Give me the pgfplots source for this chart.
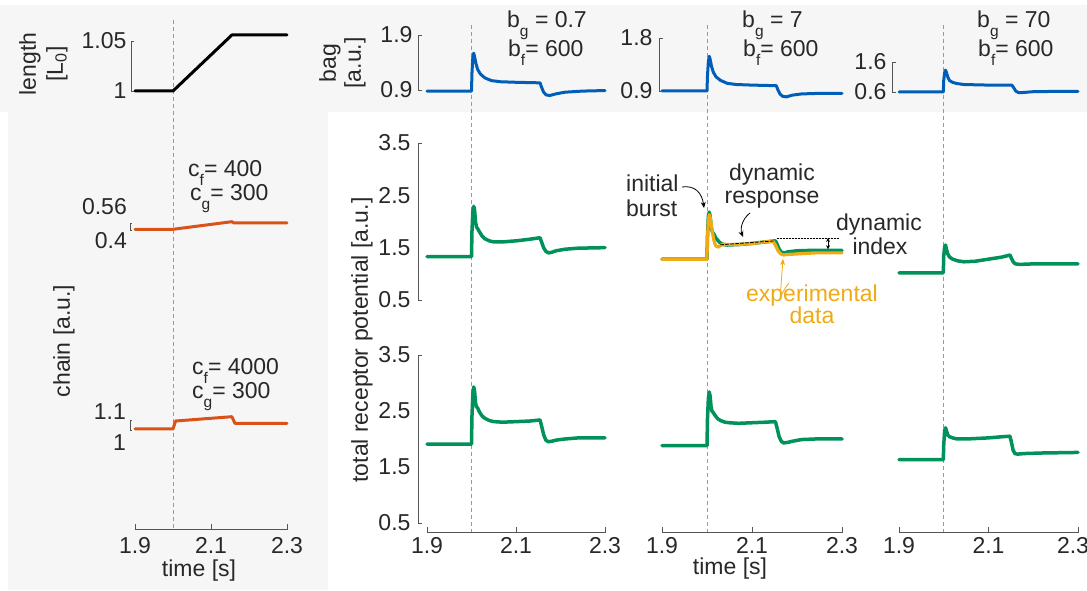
\documentclass[border=0pt]{standalone}
\usepackage{fontspec}
\setmainfont{Liberation Sans}
\usepackage{pgfplots}
\pgfplotsset{compat=1.18}
\usetikzlibrary{arrows.meta}
\definecolor{bgc}{RGB}{246,246,246}
\definecolor{txt}{RGB}{40,40,40}
\definecolor{axc}{RGB}{85,85,85}
\definecolor{grn}{RGB}{0,146,90}
\definecolor{blu}{RGB}{0,94,184}
\definecolor{chn}{RGB}{217,83,25}
\definecolor{expc}{RGB}{240,170,20}
\newcommand\lab{\fontsize{23}{24}\selectfont}
\newcommand\sub[1]{\raisebox{-9pt}{\fontsize{15.5}{15.5}\selectfont #1}}
% y bracket: shift, tick length, ymin, ymax
\newcommand\ybr[4]{\draw[axl] ([xshift=#1+#2]axis cs:1.9,#3) -- ([xshift=#1]axis cs:1.9,#3)
  -- ([xshift=#1]axis cs:1.9,#4) -- ([xshift=#1+#2]axis cs:1.9,#4);}
% x axis line below the box: shift, y value
\newcommand\xax[2]{\draw[axl] ([yshift=#1+5pt]axis cs:1.9,#2) -- ([yshift=#1]axis cs:1.9,#2)
  -- ([yshift=#1]axis cs:2.3,#2) -- ([yshift=#1+5pt]axis cs:2.3,#2);
  \draw[axl] ([yshift=#1]axis cs:2.1,#2) -- ([yshift=#1+5pt]axis cs:2.1,#2);}
\pgfplotsset{panel/.style={scale only axis, clip=false, xmin=1.9, xmax=2.3,
    axis line style={draw=none}, tick style={draw=none}, major tick length=0pt,
    xtick=\empty, ytick=\empty,
    tick label style={font=\lab, text=txt},
    /pgf/number format/assume math mode=true,
    every axis plot/.append style={line join=round, line cap=round}},
  bottom/.style={xtick={1.9,2.1,2.3}, xticklabel style={yshift=#1}}}

\begin{document}
\lab
\begin{tikzpicture}[x=1pt,y=1pt,font=\lab,text=txt,
  axl/.style={draw=axc,line width=0.9pt},
  vdash/.style={draw=gray!80,line width=0.8pt,dash pattern=on 4pt off 3pt}]
\useasboundingbox (0,0) rectangle (1087,591);
\fill[white] (0,0) rectangle (1087,591);
\fill[bgc] (0,586) rectangle (1087,479);
\fill[bgc] (8,479) rectangle (328,1);

% stretch onset
\draw[vdash] (173,571) -- (173,63);
\draw[vdash] (471.5,566) -- (471.5,59);
\draw[vdash] (707,566) -- (707,59);
\draw[vdash] (943.75,566) -- (943.75,59);

% ---- left column
\begin{axis}[panel, at={(135pt,500pt)}, width=152pt, height=50pt,
  ymin=1, ymax=1.05, ytick={1,1.05}, yticklabel style={xshift=-0.7pt}]
\addplot[black, line width=3pt] coordinates {(1.9,1) (2.0,1) (2.155,1.056) (2.3,1.056)};
\ybr{-4pt}{3pt}{1}{1.05}
\end{axis}

\begin{axis}[panel, at={(135pt,361pt)}, width=152pt, height=7pt, ymin=0.4, ymax=0.56]
\addplot[chn, line width=3pt] coordinates {(1.9,0.416) (2.0,0.416) (2.155,0.59) (2.16,0.56) (2.3,0.56)};
\ybr{-5pt}{2pt}{0.4}{0.56}
\end{axis}

\begin{axis}[panel, bottom=-99.7pt, at={(135pt,161pt)}, width=152pt, height=10pt, ymin=1, ymax=1.1]
\addplot[chn, line width=3pt] coordinates {(1.9,1.01) (2.0,1.01) (2.007,1.09) (2.155,1.133)
  (2.163,1.067) (2.3,1.067)};
\ybr{-5pt}{2pt}{1}{1.1}
\xax{-99pt}{1}
\end{axis}

\node[anchor=east,inner sep=0] at (127,384) {0.56};
\node[anchor=east,inner sep=0] at (127,350) {0.4};
\node[anchor=east,inner sep=0] at (126,179) {1.1};
\node[anchor=east,inner sep=0] at (126,148) {1};

% ---- bag row
\begin{axis}[panel, at={(427pt,501pt)}, width=178pt, height=55pt,
  ymin=0.9, ymax=1.9, ytick={0.9,1.9}, yticklabel style={xshift=-6.7pt}]
\addplot[blu, line width=3pt] coordinates {(1.9,0.88) (2.0,0.88) (2.001,1.2) (2.003,1.5) (2.005,1.57)
  (2.007,1.5) (2.01,1.38) (2.014,1.27) (2.02,1.19) (2.03,1.12) (2.045,1.07) (2.065,1.05) (2.1,1.04)
  (2.154,1.03) (2.157,0.96) (2.162,0.86) (2.168,0.81) (2.176,0.80) (2.19,0.83) (2.21,0.86)
  (2.25,0.88) (2.3,0.89)};
\ybr{-9pt}{4pt}{0.9}{1.9}
\end{axis}

\begin{axis}[panel, at={(662pt,500pt)}, width=180pt, height=53pt,
  ymin=0.9, ymax=1.8, ytick={0.9,1.8}, yticklabel style={xshift=-1.7pt}]
\addplot[blu, line width=3pt] coordinates {(1.9,0.90) (2.0,0.90) (2.001,1.15) (2.003,1.4) (2.005,1.49)
  (2.007,1.44) (2.01,1.32) (2.014,1.22) (2.02,1.14) (2.03,1.08) (2.045,1.03) (2.065,1.01) (2.1,1.0)
  (2.154,0.99) (2.157,0.93) (2.162,0.85) (2.168,0.81) (2.176,0.80) (2.19,0.83) (2.21,0.85)
  (2.25,0.86) (2.3,0.86)};
\ybr{-3pt}{4pt}{0.9}{1.8}
\end{axis}

\begin{axis}[panel, at={(899pt,499pt)}, width=179pt, height=30pt,
  ymin=0.6, ymax=1.6, ytick={0.6,1.6}, yticklabel style={xshift=-4.7pt}]
\addplot[blu, line width=3pt] coordinates {(1.9,0.60) (1.999,0.60) (2.0,1.0) (2.002,1.25) (2.004,1.33)
  (2.006,1.25) (2.009,1.1) (2.013,0.98) (2.02,0.92) (2.03,0.88) (2.045,0.85) (2.07,0.84) (2.1,0.83)
  (2.152,0.83) (2.156,0.75) (2.161,0.63) (2.167,0.58) (2.175,0.58) (2.2,0.61) (2.25,0.62) (2.3,0.62)};
\ybr{-7pt}{4pt}{0.6}{1.6}
\end{axis}

% ---- total receptor potential, row 1
\begin{axis}[panel, at={(427pt,291pt)}, width=178pt, height=157pt,
  ymin=0.5, ymax=3.5, ytick={0.5,1.5,2.5,3.5}, yticklabel style={xshift=-8.7pt}]
\addplot[grn, line width=3.5pt] coordinates {(1.9,1.33) (2.0,1.33) (2.001,1.8) (2.003,2.2) (2.005,2.29)
  (2.007,2.22) (2.009,2.0) (2.011,1.9) (2.014,1.86) (2.018,1.80) (2.024,1.72) (2.03,1.67) (2.04,1.63)
  (2.05,1.61) (2.07,1.61) (2.1,1.63) (2.13,1.66) (2.154,1.69) (2.157,1.62) (2.162,1.50) (2.167,1.43)
  (2.173,1.40) (2.18,1.41) (2.19,1.44) (2.21,1.47) (2.24,1.49) (2.3,1.50)};
\ybr{-9pt}{4pt}{0.5}{3.5}
\end{axis}

\begin{axis}[panel, at={(662pt,291pt)}, width=180pt, height=157pt, ymin=0.5, ymax=3.5]
\addplot[grn, line width=3.5pt] coordinates {(1.9,1.28) (2.0,1.28) (2.001,1.7) (2.003,2.1) (2.005,2.18)
  (2.007,2.1) (2.009,1.9) (2.012,1.80) (2.016,1.75) (2.02,1.68) (2.028,1.6) (2.036,1.56) (2.045,1.55)
  (2.07,1.56) (2.1,1.58) (2.13,1.61) (2.152,1.63) (2.156,1.56) (2.161,1.46) (2.166,1.41) (2.172,1.40)
  (2.18,1.42) (2.2,1.44) (2.24,1.45) (2.3,1.45)};
\addplot[expc, line width=3.2pt] coordinates {(1.9,1.28) (2.0,1.28) (2.001,1.7) (2.003,2.0) (2.005,2.13)
  (2.008,2.05) (2.011,1.85) (2.015,1.65) (2.019,1.54) (2.024,1.51) (2.03,1.54) (2.036,1.57) (2.045,1.56)
  (2.07,1.56) (2.1,1.58) (2.13,1.61) (2.147,1.62) (2.152,1.55) (2.158,1.44) (2.164,1.38) (2.17,1.36)
  (2.18,1.37) (2.2,1.38) (2.24,1.40) (2.3,1.40)};
\addplot[black, line width=0.8pt, dash pattern=on 3pt off 2pt] coordinates {(2.03,1.555) (2.151,1.63)};
\addplot[black, line width=0.6pt, dash pattern=on 1.5pt off 1.5pt] coordinates {(2.156,1.685) (2.296,1.685)};
\draw[black, line width=0.8pt, {Stealth[length=4pt,width=4pt]}-{Stealth[length=4pt,width=4pt]}]
  (axis cs:2.269,1.685) -- (axis cs:2.269,1.47);
\end{axis}

\begin{axis}[panel, at={(899pt,291pt)}, width=179pt, height=157pt, ymin=0.5, ymax=3.5]
\addplot[grn, line width=3.5pt] coordinates {(1.9,1.02) (1.999,1.02) (2.0,1.35) (2.002,1.52) (2.004,1.55)
  (2.006,1.47) (2.009,1.38) (2.013,1.32) (2.02,1.28) (2.03,1.25) (2.045,1.23) (2.07,1.24) (2.1,1.28)
  (2.13,1.32) (2.148,1.36) (2.151,1.30) (2.155,1.23) (2.16,1.19) (2.17,1.18) (2.2,1.19) (2.3,1.19)};
\end{axis}

% ---- total receptor potential, row 2
\begin{axis}[panel, bottom=-6.7pt, at={(427pt,68pt)}, width=178pt, height=168pt,
  ymin=0.5, ymax=3.5, ytick={0.5,1.5,2.5,3.5}, yticklabel style={xshift=-8.7pt}]
\addplot[grn, line width=3.5pt] coordinates {(1.9,1.91) (2.0,1.91) (2.001,2.4) (2.003,2.8) (2.005,2.93)
  (2.007,2.85) (2.009,2.65) (2.011,2.58) (2.014,2.55) (2.018,2.48) (2.024,2.41) (2.03,2.37) (2.04,2.33)
  (2.05,2.31) (2.07,2.30) (2.1,2.31) (2.13,2.32) (2.154,2.34) (2.157,2.25) (2.162,2.08) (2.167,1.98)
  (2.173,1.95) (2.18,1.96) (2.19,1.98) (2.21,2.0) (2.24,2.02) (2.3,2.02)};
\ybr{-9pt}{4pt}{0.5}{3.5}
\xax{-9pt}{0.5}
\end{axis}

\begin{axis}[panel, bottom=-6.7pt, at={(662pt,68pt)}, width=180pt, height=168pt, ymin=0.5, ymax=3.5]
\addplot[grn, line width=3.5pt] coordinates {(1.9,1.88) (2.0,1.88) (2.001,2.35) (2.003,2.72) (2.005,2.84)
  (2.007,2.76) (2.009,2.58) (2.011,2.50) (2.014,2.47) (2.018,2.42) (2.024,2.36) (2.03,2.33) (2.04,2.30)
  (2.05,2.29) (2.07,2.28) (2.1,2.29) (2.13,2.30) (2.152,2.31) (2.155,2.22) (2.16,2.05) (2.165,1.96)
  (2.17,1.93) (2.18,1.94) (2.19,1.96) (2.21,1.99) (2.24,2.0) (2.3,2.0)};
\xax{-9pt}{0.5}
\end{axis}

\begin{axis}[panel, bottom=-6.7pt, at={(899pt,68pt)}, width=179pt, height=168pt, ymin=0.5, ymax=3.5,
  xticklabels={1.9,2.1,{2.3\hspace*{10pt}}}]
\addplot[grn, line width=3.5pt] coordinates {(1.9,1.63) (1.999,1.63) (2.0,1.9) (2.002,2.15) (2.004,2.20)
  (2.006,2.15) (2.009,2.07) (2.013,2.04) (2.02,2.02) (2.03,2.0) (2.05,2.0) (2.1,2.02) (2.13,2.04)
  (2.148,2.05) (2.151,1.95) (2.155,1.80) (2.159,1.74) (2.165,1.73) (2.18,1.74) (2.22,1.75) (2.3,1.76)};
\xax{-9pt}{0.5}
\end{axis}

% ---- axis titles
\node[rotate=90] at (30,527) {length};
\node[rotate=90] at (57,527) {[L\textsubscript{0}]};
\node[rotate=90] at (330,528) {bag};
\node[rotate=90] at (355,528) {[a.u.]};
\node[rotate=90] at (64,250) {chain [a.u.]};
\node[rotate=90] at (362,251) {total receptor potential [a.u.]};
\node[anchor=base,inner sep=0] at (199,14) {time [s]};
\node[anchor=base,inner sep=0] at (730,16) {time [s]};

% ---- parameter labels
\node[anchor=base west,inner sep=0] at (507,563) {b\sub{g} = 0.7};
\node[anchor=base west,inner sep=0] at (508,534) {b\sub{f}= 600};
\node[anchor=base west,inner sep=0] at (742,563) {b\sub{g} = 7};
\node[anchor=base west,inner sep=0] at (743,534) {b\sub{f}= 600};
\node[anchor=base west,inner sep=0] at (977,563) {b\sub{g} = 70};
\node[anchor=base west,inner sep=0] at (978,534) {b\sub{f}= 600};
\node[anchor=base west,inner sep=0] at (188,414) {c\sub{f}= 400};
\node[anchor=base west,inner sep=0] at (190,390) {c\sub{g}= 300};
\node[anchor=base west,inner sep=0] at (192,216) {c\sub{f}= 4000};
\node[anchor=base west,inner sep=0] at (192,192) {c\sub{g}= 300};

% ---- annotations
\node[anchor=base west,inner sep=0] at (626,399) {initial};
\node[anchor=base west,inner sep=0] at (626,374) {burst};
\draw[black,line width=0.8pt,-{Stealth[length=6pt,width=5pt]}] (682,404) .. controls (695,406) and (702,398) .. (704,383);
\node[anchor=base,inner sep=0] at (772,410) {dynamic};
\node[anchor=base,inner sep=0] at (772,387) {response};
\draw[black,line width=0.8pt,-{Stealth[length=6pt,width=5pt]}] (750,378) .. controls (742,372) and (740,362) .. (743,354);
\node[anchor=base,inner sep=0] at (879,360) {dynamic};
\node[anchor=base,inner sep=0] at (880,336) {index};
\node[anchor=base,inner sep=0,text=expc] at (812,289) {experimental};
\node[anchor=base,inner sep=0,text=expc] at (812,267) {data};
\draw[expc,line width=0.8pt,-{Stealth[length=6pt,width=5pt]}] (789,308) .. controls (780,298) and (779,280) .. (783,332);
\end{tikzpicture}
\end{document}
